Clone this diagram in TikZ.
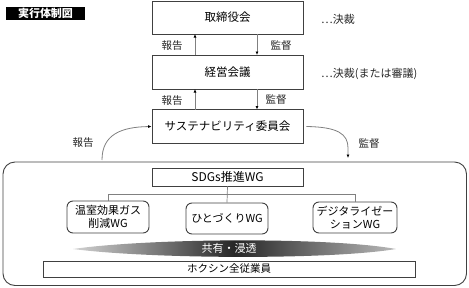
\documentclass[tikz,border=0pt]{standalone}
\usepackage{fontspec}
\setmainfont{Noto Sans CJK JP}
\usetikzlibrary{arrows.meta}
\definecolor{boxline}{HTML}{404040}
\definecolor{conn}{HTML}{808080}
\tikzset{
  box/.style={draw=boxline, line width=0.9pt, fill=white, inner sep=0pt, font=\fontsize{11.5}{13}\selectfont},
  wgbox/.style={draw=boxline, line width=0.9pt, rounded corners=6pt, fill=white, inner sep=0pt, align=center, font=\fontsize{11}{13}\selectfont},
  lbl/.style={inner sep=0pt, font=\fontsize{10.5}{12}\selectfont, text=black!85},
  upar/.style={draw=conn, line width=0.8pt, -{Latex[length=3.5pt,width=3pt,color=black]}},
  tree/.style={draw=conn, line width=0.7pt}
}
\begin{document}
\begin{tikzpicture}[x=1pt,y=-1pt]
\useasboundingbox (0,0) rectangle (469,287);
% title
\node[fill=black, text=white, inner sep=0pt, minimum width=79pt, minimum height=13pt, font=\bfseries\fontsize{11}{12}\selectfont] (title) at (45.5,13) {実行体制図};
% main boxes
\node[box, minimum width=151pt, minimum height=33pt] (board) at (227.5,17.5) {取締役会};
\node[box, minimum width=151pt, minimum height=34pt] (mgmt) at (227.5,72) {経営会議};
\node[box, minimum width=151pt, minimum height=34pt] (sust) at (227.5,126.5) {サステナビリティ委員会};
% side notes
\node[lbl, anchor=west, font=\fontsize{11}{12}\selectfont] (n1) at (321,19) {…決裁};
\node[lbl, anchor=west, font=\fontsize{11}{12}\selectfont] (n2) at (321,74) {…決裁(または審議)};
% arrow coordinates
\coordinate (mgmtUp) at (195,55);
\coordinate (boardDn) at (195,34);
\coordinate (sustUp) at (195,109.5);
\coordinate (mgmtDn) at (195,89);
\coordinate (boardDnR) at (257,34);
\coordinate (mgmtUpR) at (257,55);
\coordinate (mgmtDnR) at (257,89);
\coordinate (sustUpR) at (257,109.5);
\draw[upar] (mgmtUp) -- (boardDn);
\draw[upar] (sustUp) -- (mgmtDn);
\draw[upar] (boardDnR) -- (mgmtUpR);
\draw[upar] (mgmtDnR) -- (sustUpR);
\node[lbl] (r1) at (172,46) {報告};
\node[lbl] (r2) at (172,101) {報告};
\node[lbl] (s1) at (281,46) {監督};
\node[lbl] (s2) at (276,100) {監督};
% big rounded frame
\draw[draw=boxline, line width=0.9pt, rounded corners=12pt] (3,162) rectangle (466.5,285.5);
% curved arrows
\coordinate (lstart) at (102,160);
\coordinate (rend) at (348,158);
\draw[upar] (lstart) .. controls (102,134) and (122,127) .. (sust.west);
\draw[upar] ([xshift=3pt]sust.east) .. controls (338,127) and (348,134) .. (348,148) -- (rend);
\node[lbl] (r3) at (83,143) {報告};
\node[lbl] (s3) at (369,144) {監督};
% SDGs
\node[box, minimum width=151pt, minimum height=18pt, font=\fontsize{12}{13}\selectfont] (sdgs) at (227.5,177) {SDGs推進WG};
% WGs
\node[wgbox, minimum width=82pt, minimum height=32pt] (wg1) at (108,217) {温室効果ガス\\削減WG};
\node[wgbox, minimum width=82pt, minimum height=31pt] (wg2) at (227,218.5) {ひとづくりWG};
\node[wgbox, minimum width=84pt, minimum height=31pt] (wg3) at (355,217.5) {デジタライゼー\\ションWG};
\coordinate (bl) at (108,194);
\coordinate (br) at (355,194);
\draw[tree] (sdgs.south) -- (wg2.north);
\draw[tree] (wg1.north) -- (bl) -- (br) -- (wg3.north);
% shaded lens
\shade[left color=gray!35, right color=gray!55, middle color=black!85]
  (73,249) .. controls (150,238) and (330,237) .. (396,249) .. controls (330,260) and (150,259) .. (73,249);
\node[inner sep=0pt, text=white, font=\fontsize{11}{12}\selectfont] (share) at (229,248.5) {共有・浸透};
% employees
\node[box, minimum width=372pt, minimum height=16pt, font=\fontsize{10.5}{12}\selectfont] (emp) at (229,269) {ホクシン全従業員};
\end{tikzpicture}
\end{document}
